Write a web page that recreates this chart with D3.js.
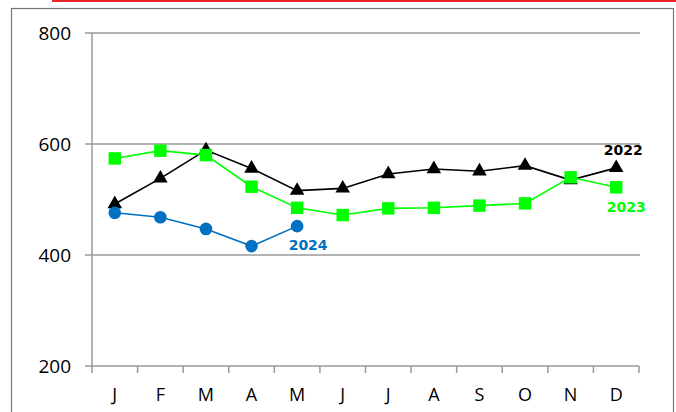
<!DOCTYPE html>
<meta charset="utf-8">
<style>
body { margin: 0; background: #fff; }
svg { display: block; font-family: 'Open Sans', sans-serif; }
.grid line { stroke: #9a9a9a; stroke-width: 1.5; }
.label { font-family: 'DejaVu Sans', sans-serif; font-weight: bold; font-size: 14px; }
</style>
<svg id="chart" width="676" height="412"></svg>
<script src="https://cdn.jsdelivr.net/npm/d3@7"></script>
<script>

var months = ["J", "F", "M", "A", "M", "J", "J", "A", "S", "O", "N", "D"];
var yTicks = [200, 400, 600, 800];

var v2022 = [492, 538, 589, 556, 516, 520, 546, 555, 551, 561, 535, 557];
var v2023 = [574, 588, 580, 523, 485, 472, 484, 485, 489, 493, 540, 522];
var v2024 = [476, 468, 447, 416, 452];

var svg = d3.select("#chart");

// red strip at the top and outer frame
svg.append("line")
    .attr("x1", 52).attr("x2", 676).attr("y1", 1).attr("y2", 1)
    .attr("stroke", "#e8232a").attr("stroke-width", 2);
svg.append("rect")
    .attr("x", 11.5).attr("y", 8.5).attr("width", 662).attr("height", 420)
    .attr("fill", "none").attr("stroke", "#777").attr("stroke-width", 1.2);

var plotLeft = 92, plotRight = 639, plotTop = 33, plotBottom = 366;

var x = d3.scaleBand()
    .domain(d3.range(12))
    .range([plotLeft, plotRight]);

var y = d3.scaleLinear()
    .domain([200, 800])
    .range([plotBottom, plotTop]);

// horizontal gridlines with short ticks on the left
var grid = svg.append("g").attr("class", "grid");
grid.selectAll("line")
    .data(yTicks)
  .enter().append("line")
    .attr("x1", plotLeft - 7)
    .attr("x2", function(d) { return d == 200 ? plotRight : plotRight + 1; })
    .attr("y1", function(d) { return y(d); })
    .attr("y2", function(d) { return y(d); });

svg.append("line")
    .attr("x1", plotLeft).attr("x2", plotLeft)
    .attr("y1", y(800)).attr("y2", plotBottom)
    .attr("stroke", "#9a9a9a").attr("stroke-width", 1.5);

// month ticks between bands
svg.append("g")
    .selectAll("line")
    .data(d3.range(13))
  .enter().append("line")
    .attr("x1", function(i) { return plotLeft + i * x.step(); })
    .attr("x2", function(i) { return plotLeft + i * x.step(); })
    .attr("y1", plotBottom)
    .attr("y2", plotBottom + 7)
    .attr("stroke", "#9a9a9a").attr("stroke-width", 1.5);

svg.append("g")
    .selectAll("text")
    .data(yTicks)
  .enter().append("text")
    .attr("x", 71)
    .attr("y", function(d) { return y(d); })
    .attr("dy", "0.35em")
    .attr("text-anchor", "end")
    .style("font-size", "19px")
    .text(function(d) { return d; });

svg.append("g")
    .selectAll("text")
    .data(months)
  .enter().append("text")
    .attr("x", function(d, i) { return x(i) + x.bandwidth() / 2; })
    .attr("y", 401)
    .attr("text-anchor", "middle")
    .style("font-size", "18px")
    .text(function(d) { return d; });

var cx = function(i) { return x(i) + x.bandwidth() / 2; };

var line = d3.line()
    .x(function(d, i) { return cx(i); })
    .y(function(d) { return y(d); });

function drawSeries(values, color, symbol, size) {
  var g = svg.append("g");
  g.append("path")
      .datum(values)
      .attr("fill", "none")
      .attr("stroke", color)
      .attr("stroke-width", 1.6)
      .attr("d", line);
  g.selectAll("path.marker")
      .data(values)
    .enter().append("path")
      .attr("class", "marker")
      .attr("transform", function(d, i) {
        return "translate(" + cx(i) + "," + y(d) + ")";
      })
      .attr("d", d3.symbol().type(symbol).size(size))
      .attr("fill", color);
}

drawSeries(v2022, "#000000", d3.symbolTriangle, 92);
drawSeries(v2023, "#00ff00", d3.symbolSquare, 155);
drawSeries(v2024, "#0070c0", d3.symbolCircle, 125);

svg.append("text").attr("class", "label")
    .attr("x", cx(11) + 7).attr("y", y(v2022[11]) - 13)
    .attr("text-anchor", "middle").attr("fill", "#000")
    .text("2022");
svg.append("text").attr("class", "label")
    .attr("x", cx(11) + 10).attr("y", y(v2023[11]) + 25)
    .attr("text-anchor", "middle").attr("fill", "#00ff00")
    .text("2023");
svg.append("text").attr("class", "label")
    .attr("x", cx(4) + 11).attr("y", y(v2024[4]) + 24)
    .attr("text-anchor", "middle").attr("fill", "#0070c0")
    .text("2024");

</script>
